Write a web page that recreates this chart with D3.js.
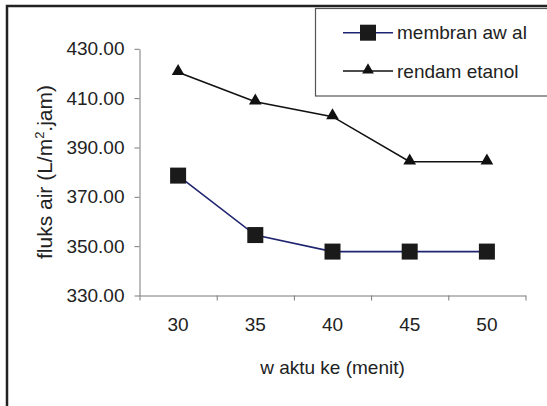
<!DOCTYPE html>
<html>
<head>
<meta charset="utf-8">
<script src="https://cdn.jsdelivr.net/npm/d3@7"></script>
<style>
  html, body { margin: 0; padding: 0; background: #fff; }
  svg { display: block; font-family: "Liberation Sans", Arial, sans-serif; }
</style>
</head>
<body>
<div id="chart"></div>
<script>
// ---- data ----
const categories = ["30", "35", "40", "45", "50"];
const membranAwal = [378.6, 354.5, 347.8, 347.8, 347.8];
const rendamEtanol = [420.5, 408.5, 402.5, 384.2, 384.2];
const yTicks = [330, 350, 370, 390, 410, 430];
const seriesNames = ["membran aw al", "rendam etanol"];
const xTitle = "w aktu ke (menit)";

(function () {
const W = 547, H = 406;
const svg = d3.select("#chart").append("svg").attr("width", W).attr("height", H);

// outer frame (extends beyond the visible area on right/bottom)
svg.append("rect").attr("x", 7).attr("y", 6).attr("width", 700).attr("height", 600)
  .attr("fill", "none").attr("stroke", "#222").attr("stroke-width", 2.5);

const pLeft = 139.5, pRight = 525.5, pTop = 48.8, pBottom = 295.5;

const x = d3.scaleBand().domain(categories).range([pLeft, pRight]);
const xEdge = d3.scaleLinear().domain([0, categories.length]).range([pLeft, pRight]);
const y = d3.scaleLinear().domain([330, 430]).range([pBottom, pTop]);

const axisColor = "#7a7a7a";

// y axis
const gy = svg.append("g").attr("transform", `translate(${pLeft},0)`)
  .call(d3.axisLeft(y).tickValues(yTicks).tickFormat(d3.format(".2f"))
    .tickSize(5).tickSizeOuter(0).tickPadding(10));
gy.select(".domain").attr("stroke", axisColor);
gy.selectAll(".tick line").attr("stroke", axisColor);
gy.selectAll("text").attr("font-size", 19).attr("fill", "#222")
  .attr("font-family", "Liberation Sans, Arial, sans-serif");

// x axis: boundary ticks
const gxe = svg.append("g").attr("transform", `translate(0,${pBottom})`)
  .call(d3.axisBottom(xEdge).tickValues(d3.range(categories.length + 1))
    .tickFormat("").tickSize(5).tickSizeOuter(0));
gxe.select(".domain").attr("stroke", axisColor);
gxe.selectAll(".tick line").attr("stroke", axisColor);

// x axis: category labels
const gx = svg.append("g").attr("transform", `translate(0,${pBottom})`)
  .call(d3.axisBottom(x).tickSize(0).tickPadding(22));
gx.select(".domain").remove();
gx.selectAll("text").attr("font-size", 19).attr("fill", "#222")
  .attr("font-family", "Liberation Sans, Arial, sans-serif");

// axis titles
svg.append("text").attr("x", (pLeft + pRight) / 2).attr("y", 374)
  .attr("text-anchor", "middle").attr("font-size", 19).attr("fill", "#222")
  .text(xTitle);

const yt = svg.append("text")
  .attr("transform", `translate(52,172) rotate(-90)`)
  .attr("text-anchor", "middle").attr("font-size", 21).attr("fill", "#222");
yt.append("tspan").text("fluks air (L/m");
yt.append("tspan").attr("font-size", 13).attr("dy", -8).text("2");
yt.append("tspan").attr("dy", 8).text(".jam)");

// series lines
const line = d3.line().x((d, i) => x(categories[i]) + x.bandwidth() / 2).y(d => y(d));

svg.append("path").datum(membranAwal).attr("d", line)
  .attr("fill", "none").attr("stroke", "#1f2470").attr("stroke-width", 1.6);
svg.append("path").datum(rendamEtanol).attr("d", line)
  .attr("fill", "none").attr("stroke", "#111").attr("stroke-width", 1.6);

const sq = 16;
svg.selectAll(".sq").data(membranAwal).enter().append("rect")
  .attr("x", (d, i) => x(categories[i]) + x.bandwidth() / 2 - sq / 2)
  .attr("y", d => y(d) - sq / 2)
  .attr("width", sq).attr("height", sq).attr("fill", "#1a1a1a");

const tri = d3.symbol().type(d3.symbolTriangle).size(70);
svg.selectAll(".tri").data(rendamEtanol).enter().append("path")
  .attr("d", tri)
  .attr("transform", (d, i) => `translate(${x(categories[i]) + x.bandwidth() / 2},${y(d) - 1})`)
  .attr("fill", "#111");

// legend
svg.append("rect").attr("x", 315.5).attr("y", 8.5).attr("width", 300).attr("height", 87.5)
  .attr("fill", "#fff").attr("stroke", "#555").attr("stroke-width", 1.2);

const legY = [32.7, 71];
svg.append("line").attr("x1", 343).attr("x2", 393).attr("y1", legY[0]).attr("y2", legY[0])
  .attr("stroke", "#1f2470").attr("stroke-width", 1.6);
svg.append("rect").attr("x", 368 - 8).attr("y", legY[0] - 8).attr("width", 16).attr("height", 16)
  .attr("fill", "#1a1a1a");
svg.append("line").attr("x1", 343).attr("x2", 393).attr("y1", legY[1]).attr("y2", legY[1])
  .attr("stroke", "#111").attr("stroke-width", 1.6);
svg.append("path").attr("d", d3.symbol().type(d3.symbolTriangle).size(60))
  .attr("transform", `translate(368,${legY[1] - 1})`).attr("fill", "#111");

svg.selectAll(".legtext").data(seriesNames).enter().append("text")
  .attr("x", 397).attr("y", (d, i) => legY[i] + 6.5)
  .attr("font-size", 19).attr("fill", "#222").text(d => d);
})();
</script>
</body>
</html>
